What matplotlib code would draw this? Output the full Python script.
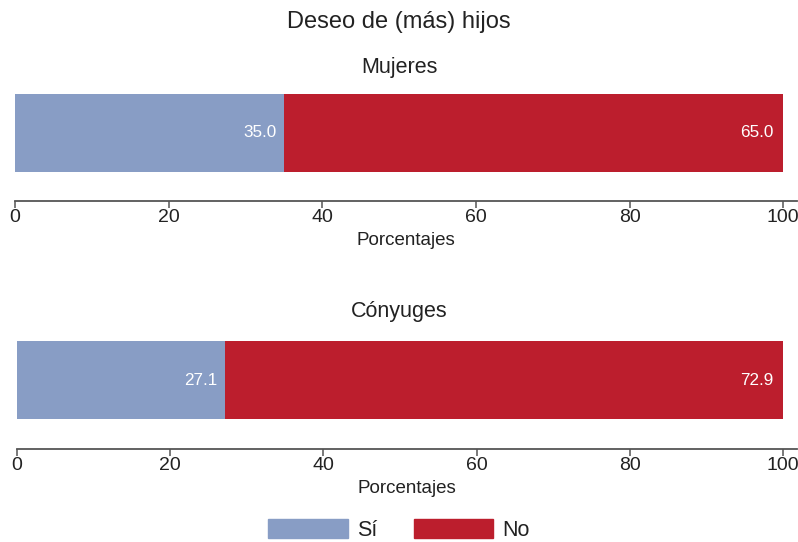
import matplotlib.pyplot as plt
from matplotlib.patches import Patch

plt.rcParams['font.family'] = ['Liberation Sans', 'DejaVu Sans']

# Datos
paneles = ["Mujeres", "Cónyuges"]
si_vals = [35.0, 27.1]
no_vals = [65.0, 72.9]
categorias = ["Sí", "No"]
ticks = [0, 20, 40, 60, 80, 100]

color_si = "#889dc5"
color_no = "#bc1e2d"
texto = "#222222"

fig = plt.figure(figsize=(7.98, 5.42), dpi=100)

# posiciones de ejes (en fracción de figura)
ejes_pos = [
    [15 / 798, 1 - 201 / 542, 782 / 798, 107 / 542],
    [17 / 798, 1 - 449 / 542, 780 / 798, 108 / 542],
]
titulos_y = [1 - 68 / 542, 1 - 311 / 542]

fig.text(0.5, 1 - 22 / 542, "Deseo de (más) hijos", ha="center", va="center",
         fontsize=17, color=texto)

for i, nombre in enumerate(paneles):
    ax = fig.add_axes(ejes_pos[i])
    ax.barh(0, si_vals[i], height=1, left=0, align="edge", color=color_si)
    ax.barh(0, no_vals[i], height=1, left=si_vals[i], align="edge", color=color_no)
    ax.text(si_vals[i] - 0.9, 0.5, f"{si_vals[i]:.1f}", ha="right", va="center",
            color="white", fontsize=12.3)
    ax.text(si_vals[i] + no_vals[i] - 1.3, 0.5, f"{no_vals[i]:.1f}", ha="right", va="center",
            color="white", fontsize=12.3)
    ax.set_xlim(0, 101.8)
    ax.set_ylim(-0.38, 1)
    for s in ["top", "right", "left"]:
        ax.spines[s].set_visible(False)
    ax.spines["bottom"].set_color("#555555")
    ax.spines["bottom"].set_linewidth(1.3)
    ax.set_yticks([])
    ax.set_xticks(ticks)
    ax.tick_params(axis="x", length=5, width=1.1, color="#555555", labelsize=14,
                   labelcolor=texto, pad=1)
    ax.set_xlabel("Porcentajes", fontsize=13.5, labelpad=4, color=texto)
    fig.text(0.5, titulos_y[i], nombre, ha="center", va="center", fontsize=15.5,
             color=texto)

handles = [Patch(color=color_si), Patch(color=color_no)]
fig.legend(handles, categorias, loc="lower center", bbox_to_anchor=(0.5, -0.018), ncol=2,
           frameon=False, fontsize=15.5, handlelength=3.7, handleheight=0.95,
           handletextpad=0.42, columnspacing=1.7, borderpad=0, labelcolor=texto)

fig.savefig("out.png", dpi=100)
